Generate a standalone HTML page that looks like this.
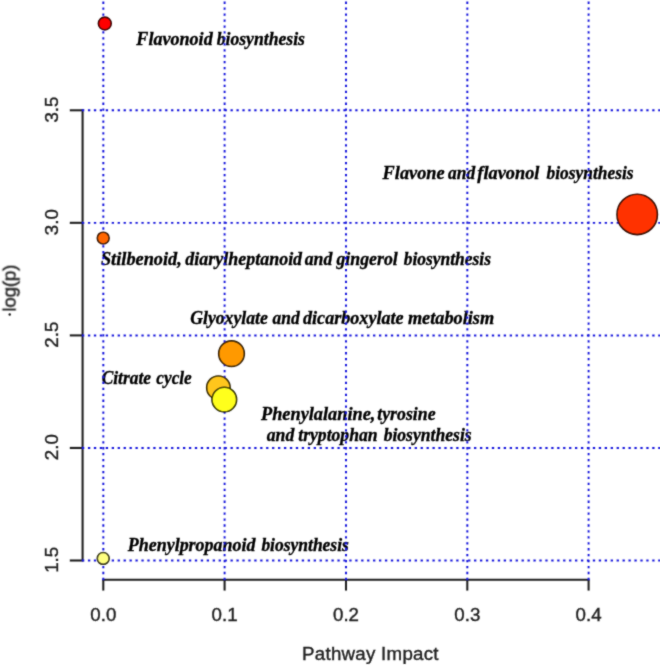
<!DOCTYPE html>
<html><head><meta charset="utf-8"><title>Pathway Impact</title>
<style>
html,body{margin:0;padding:0;background:#fff;}
body{width:660px;height:666px;overflow:hidden;}
svg{display:block;}
.lab{font-family:"Liberation Serif",serif;font-style:italic;font-weight:bold;font-size:18.2px;fill:#050505;stroke:#050505;stroke-width:0.35px;}
.ax{font-family:"Liberation Sans",sans-serif;font-size:18.7px;fill:#222;stroke:#222;stroke-width:0.4px;}
</style></head><body>
<svg width="660" height="666" viewBox="0 0 660 666">
<rect width="660" height="666" fill="#fff"/>
<defs><filter id="soft" x="-5%" y="-5%" width="110%" height="110%"><feConvolveMatrix order="3" kernelMatrix="0.03 0.09 0.03 0.09 0.52 0.09 0.03 0.09 0.03" divisor="1" edgeMode="duplicate" preserveAlpha="false"/></filter></defs>
<g filter="url(#soft)">
<g stroke="#1c1c1c" stroke-width="2.05" fill="none" stroke-linecap="butt">
<path d="M82.6 109.35 V561.45"/>
<path d="M69.8 110.3 H82.6"/>
<path d="M69.8 222.85 H82.6"/>
<path d="M69.8 335.4 H82.6"/>
<path d="M69.8 447.95 H82.6"/>
<path d="M69.8 560.5 H82.6"/>
<path d="M102.35 579.7 H589.55"/>
<path d="M103.3 579.7 V590.6"/>
<path d="M224.6 579.7 V590.6"/>
<path d="M346.0 579.7 V590.6"/>
<path d="M467.3 579.7 V590.6"/>
<path d="M588.6 579.7 V590.6"/>
</g>
<text class="lab" x="136.32" y="45.4" textLength="76.38" lengthAdjust="spacingAndGlyphs">Flavonoid</text>
<text class="lab" x="216.70" y="45.4" textLength="88.23" lengthAdjust="spacingAndGlyphs">biosynthesis</text>
<text class="lab" x="382.61" y="178.6" textLength="62.02" lengthAdjust="spacingAndGlyphs">Flavone</text>
<text class="lab" x="448.01" y="178.6" textLength="27.12" lengthAdjust="spacingAndGlyphs">and</text>
<text class="lab" x="477.37" y="178.6" textLength="62.11" lengthAdjust="spacingAndGlyphs">flavonol</text>
<text class="lab" x="546.60" y="178.6" textLength="87.00" lengthAdjust="spacingAndGlyphs">biosynthesis</text>
<text class="lab" x="100.95" y="265.4" textLength="80.87" lengthAdjust="spacingAndGlyphs">Stilbenoid,</text>
<text class="lab" x="185.35" y="265.4" textLength="116.76" lengthAdjust="spacingAndGlyphs">diarylheptanoid</text>
<text class="lab" x="304.75" y="265.4" textLength="27.62" lengthAdjust="spacingAndGlyphs">and</text>
<text class="lab" x="336.42" y="265.4" textLength="61.33" lengthAdjust="spacingAndGlyphs">gingerol</text>
<text class="lab" x="403.70" y="265.4" textLength="87.30" lengthAdjust="spacingAndGlyphs">biosynthesis</text>
<text class="lab" x="190.20" y="324.2" textLength="77.70" lengthAdjust="spacingAndGlyphs">Glyoxylate</text>
<text class="lab" x="272.50" y="324.2" textLength="27.20" lengthAdjust="spacingAndGlyphs">and</text>
<text class="lab" x="303.02" y="324.2" textLength="100.59" lengthAdjust="spacingAndGlyphs">dicarboxylate</text>
<text class="lab" x="407.91" y="324.2" textLength="86.30" lengthAdjust="spacingAndGlyphs">metabolism</text>
<text class="lab" x="101.70" y="384.0" textLength="49.30" lengthAdjust="spacingAndGlyphs">Citrate</text>
<text class="lab" x="156.36" y="384.0" textLength="35.35" lengthAdjust="spacingAndGlyphs">cycle</text>
<text class="lab" x="261.00" y="419.8" textLength="114.40" lengthAdjust="spacingAndGlyphs">Phenylalanine,</text>
<text class="lab" x="377.29" y="419.8" textLength="58.24" lengthAdjust="spacingAndGlyphs">tyrosine</text>
<text class="lab" x="266.74" y="441.0" textLength="27.57" lengthAdjust="spacingAndGlyphs">and</text>
<text class="lab" x="298.30" y="441.0" textLength="79.30" lengthAdjust="spacingAndGlyphs">tryptophan</text>
<text class="lab" x="383.64" y="441.0" textLength="88.00" lengthAdjust="spacingAndGlyphs">biosynthesis</text>
<text class="lab" x="127.77" y="551.4" textLength="127.72" lengthAdjust="spacingAndGlyphs">Phenylpropanoid</text>
<text class="lab" x="261.38" y="551.4" textLength="87.48" lengthAdjust="spacingAndGlyphs">biosynthesis</text>
<g stroke="#1414dc" stroke-width="1.95" fill="none">
<line x1="103.3" y1="580.10" x2="103.3" y2="-10" stroke-dasharray="2.3 3.64"/>
<line x1="224.6" y1="580.10" x2="224.6" y2="-10" stroke-dasharray="2.3 3.64"/>
<line x1="346.0" y1="580.10" x2="346.0" y2="-10" stroke-dasharray="2.3 3.64"/>
<line x1="467.3" y1="580.10" x2="467.3" y2="-10" stroke-dasharray="2.3 3.64"/>
<line x1="588.6" y1="580.10" x2="588.6" y2="-10" stroke-dasharray="2.3 3.64"/>
<line x1="82.00" y1="110.3" x2="670" y2="110.3" stroke-dasharray="2.3 3.64"/>
<line x1="82.00" y1="222.85" x2="670" y2="222.85" stroke-dasharray="2.3 3.64"/>
<line x1="82.00" y1="335.4" x2="670" y2="335.4" stroke-dasharray="2.3 3.64"/>
<line x1="82.00" y1="447.95" x2="670" y2="447.95" stroke-dasharray="2.3 3.64"/>
<line x1="82.00" y1="560.5" x2="670" y2="560.5" stroke-dasharray="2.3 3.64"/>
</g>
<circle cx="104.8" cy="23.5" r="6.40" fill="#ff0000" stroke="#2e0505" stroke-width="1.6"/>
<circle cx="103.2" cy="238.1" r="5.90" fill="#ff6600" stroke="#2e1503" stroke-width="1.6"/>
<circle cx="637.2" cy="214.4" r="20.20" fill="#ff3300" stroke="#2e0c02" stroke-width="1.6"/>
<circle cx="231.5" cy="353.7" r="12.80" fill="#ff9900" stroke="#2e1d03" stroke-width="1.6"/>
<circle cx="218.4" cy="387.7" r="11.70" fill="#ffc61a" stroke="#2e2403" stroke-width="1.6"/>
<circle cx="224.3" cy="399.6" r="12.30" fill="#ffff1a" stroke="#262604" stroke-width="1.6"/>
<circle cx="103.2" cy="558.4" r="5.90" fill="#ffff80" stroke="#262608" stroke-width="1.6"/>
<text class="ax" x="103.3" y="621" text-anchor="middle">0.0</text>
<text class="ax" x="224.6" y="621" text-anchor="middle">0.1</text>
<text class="ax" x="346.0" y="621" text-anchor="middle">0.2</text>
<text class="ax" x="467.3" y="621" text-anchor="middle">0.3</text>
<text class="ax" x="588.6" y="621" text-anchor="middle">0.4</text>
<text class="ax" transform="translate(58.2 109.6) rotate(-90)" text-anchor="middle">3.5</text>
<text class="ax" transform="translate(58.2 222.2) rotate(-90)" text-anchor="middle">3.0</text>
<text class="ax" transform="translate(58.2 334.7) rotate(-90)" text-anchor="middle">2.5</text>
<text class="ax" transform="translate(58.2 447.2) rotate(-90)" text-anchor="middle">2.0</text>
<text class="ax" transform="translate(58.2 559.8) rotate(-90)" text-anchor="middle">1.5</text>
<text class="ax" x="370.3" y="659.5" text-anchor="middle" textLength="136.5">Pathway Impact</text>
<circle cx="9.7" cy="314.4" r="1.25" fill="#222"/>
<text class="ax" transform="translate(15.6 311.6) rotate(-90)" textLength="47">log(p)</text>
</g>
</svg>
</body></html>
